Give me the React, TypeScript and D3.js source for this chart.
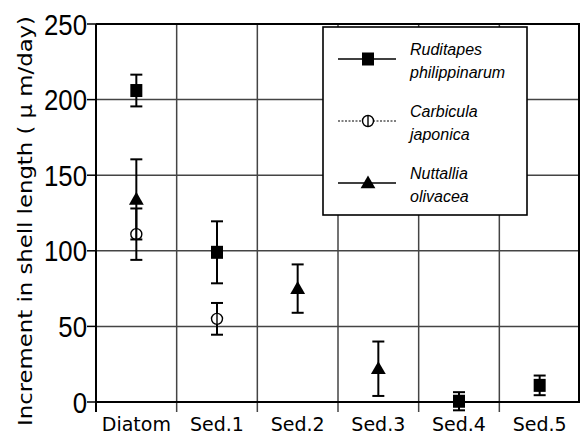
import React from "react";
import * as d3 from "d3";

const categories = ["Diatom", "Sed.1", "Sed.2", "Sed.3", "Sed.4", "Sed.5"];
const ruditapesMean: (number | null)[] = [206, 99, null, null, 0.5, 11];
const ruditapesErr: (number | null)[] = [10.5, 20.5, null, null, 6, 6.5];
const carbiculaMean: (number | null)[] = [111, 55, null, null, null, null];
const carbiculaErr: (number | null)[] = [17, 10.5, null, null, null, null];
const nuttalliaMean: (number | null)[] = [134, null, 75, 22, null, null];
const nuttalliaErr: (number | null)[] = [26.5, null, 16, 18, null, null];
const yTicks = [0, 50, 100, 150, 200, 250];

const W = 581;
const H = 437;
const plot = { left: 96, right: 580, top: 24, bottom: 402 };

const x = d3.scaleBand<string>().domain(categories).range([plot.left, plot.right]).padding(0);
const y = d3.scaleLinear().domain([0, 250]).range([plot.bottom, plot.top]);

const tri = d3.symbol().type(d3.symbolTriangle).size(95)();

type Kind = "square" | "circle" | "triangle";

function Marker({ kind, cx, cy }: { kind: Kind; cx: number; cy: number }) {
  if (kind === "square")
    return <rect x={cx - 6} y={cy - 6.5} width={12} height={13} fill="#000" />;
  if (kind === "circle")
    return (
      <g>
        <circle cx={cx} cy={cy} r={5.5} fill="#fff" stroke="#000" strokeWidth={1.4} />
        <line x1={cx} x2={cx} y1={cy - 5.5} y2={cy + 5.5} stroke="#000" strokeWidth={1.4} />
      </g>
    );
  return <path d={tri || ""} transform={`translate(${cx},${cy + 1})`} fill="#000" />;
}

function Series({ means, errs, kind }: { means: (number | null)[]; errs: (number | null)[]; kind: Kind }) {
  return (
    <g>
      {categories.map((c, i) => {
        const m = means[i];
        if (m == null) return null;
        const e = errs[i] ?? 0;
        const cx = (x(c) ?? 0) + x.bandwidth() / 2;
        const cw = 6;
        return (
          <g key={c}>
            <line x1={cx} x2={cx} y1={y(m + e)} y2={y(m - e)} stroke="#000" strokeWidth={2} />
            <line x1={cx - cw} x2={cx + cw} y1={y(m + e)} y2={y(m + e)} stroke="#000" strokeWidth={2} />
            <line x1={cx - cw} x2={cx + cw} y1={y(m - e)} y2={y(m - e)} stroke="#000" strokeWidth={2} />
            <Marker kind={kind} cx={cx} cy={y(m)} />
          </g>
        );
      })}
    </g>
  );
}

const legendItems: { kind: Kind; l1: string; l2: string; dash?: string; sw: number }[] = [
  { kind: "square", l1: "Ruditapes", l2: "philippinarum", sw: 1.6 },
  { kind: "circle", l1: "Carbicula", l2: "japonica", dash: "2,1.5", sw: 1 },
  { kind: "triangle", l1: "Nuttallia", l2: "olivacea", sw: 1.6 },
];

export default function App() {
  const boundaries = categories.map((c) => x(c) ?? 0).concat([plot.right]);
  return (
    <svg width={W} height={H} style={{ position: "absolute", left: 0, top: 0, background: "#fff" }}>
      <rect x={0} y={0} width={W} height={H} fill="#fff" />
      {/* horizontal grid */}
      {yTicks.filter((t) => t > 0 && t < 250).map((t) => (
        <line key={t} x1={plot.left} x2={plot.right} y1={y(t)} y2={y(t)} stroke="#444" strokeWidth={1.5} />
      ))}
      {/* vertical grid */}
      {boundaries.slice(1, -1).map((b, i) => (
        <line key={i} x1={b} x2={b} y1={plot.top} y2={plot.bottom + 10} stroke="#444" strokeWidth={1.5} />
      ))}
      {/* frame */}
      <line x1={plot.left} x2={plot.right} y1={plot.top} y2={plot.top} stroke="#000" strokeWidth={2} />
      <line x1={plot.right - 1} x2={plot.right - 1} y1={plot.top} y2={plot.bottom} stroke="#000" strokeWidth={2} />
      <line x1={plot.left} x2={plot.right} y1={plot.bottom} y2={plot.bottom} stroke="#000" strokeWidth={2} />
      <line x1={plot.left} x2={plot.left} y1={plot.top} y2={plot.bottom + 10} stroke="#000" strokeWidth={2} />
      {/* y ticks and labels */}
      {yTicks.map((t) => (
        <g key={t}>
          <line x1={plot.left - 9} x2={plot.left} y1={y(t)} y2={y(t)} stroke="#000" strokeWidth={1.5} />
          <text
            transform={`translate(87,${y(t) + 10.5}) scale(0.86,1)`}
            textAnchor="end"
            fontFamily="Liberation Sans, Arial, sans-serif"
            fontSize={30}
            fill="#000"
          >
            {t}
          </text>
        </g>
      ))}
      {/* x labels */}
      {categories.map((c) => (
        <text
          key={c}
          x={(x(c) ?? 0) + x.bandwidth() / 2}
          y={431}
          textAnchor="middle"
          fontFamily="DejaVu Sans, sans-serif"
          fontSize={19}
          fill="#000"
        >
          {c}
        </text>
      ))}
      {/* y axis title */}
      <text
        transform={`translate(32,${221}) rotate(-90)`}
        textAnchor="middle"
        fontFamily="DejaVu Sans, sans-serif"
        fontSize={20}
        textLength={410}
        lengthAdjust="spacingAndGlyphs"
        fill="#000"
      >
        Increment in shell length ( μ m/day)
      </text>
      {/* data */}
      <Series means={carbiculaMean} errs={carbiculaErr} kind="circle" />
      <Series means={nuttalliaMean} errs={nuttalliaErr} kind="triangle" />
      <Series means={ruditapesMean} errs={ruditapesErr} kind="square" />
      {/* legend */}
      <g>
        <rect x={323} y={27} width={204} height={188} fill="#fff" stroke="#000" strokeWidth={1.6} />
        {legendItems.map((it, i) => {
          const ly = 59 + i * 62;
          return (
            <g key={it.l1}>
              <line x1={338} x2={396} y1={ly} y2={ly} stroke="#000" strokeWidth={it.sw} strokeDasharray={it.dash} />
              <Marker kind={it.kind} cx={368} cy={ly} />
              <text x={410} y={ly - 4} fontFamily="Liberation Sans, Arial, sans-serif" fontStyle="italic" fontSize={16} fill="#000">
                {it.l1}
              </text>
              <text x={410} y={ly + 19} fontFamily="Liberation Sans, Arial, sans-serif" fontStyle="italic" fontSize={16} fill="#000">
                {it.l2}
              </text>
            </g>
          );
        })}
      </g>
    </svg>
  );
}
